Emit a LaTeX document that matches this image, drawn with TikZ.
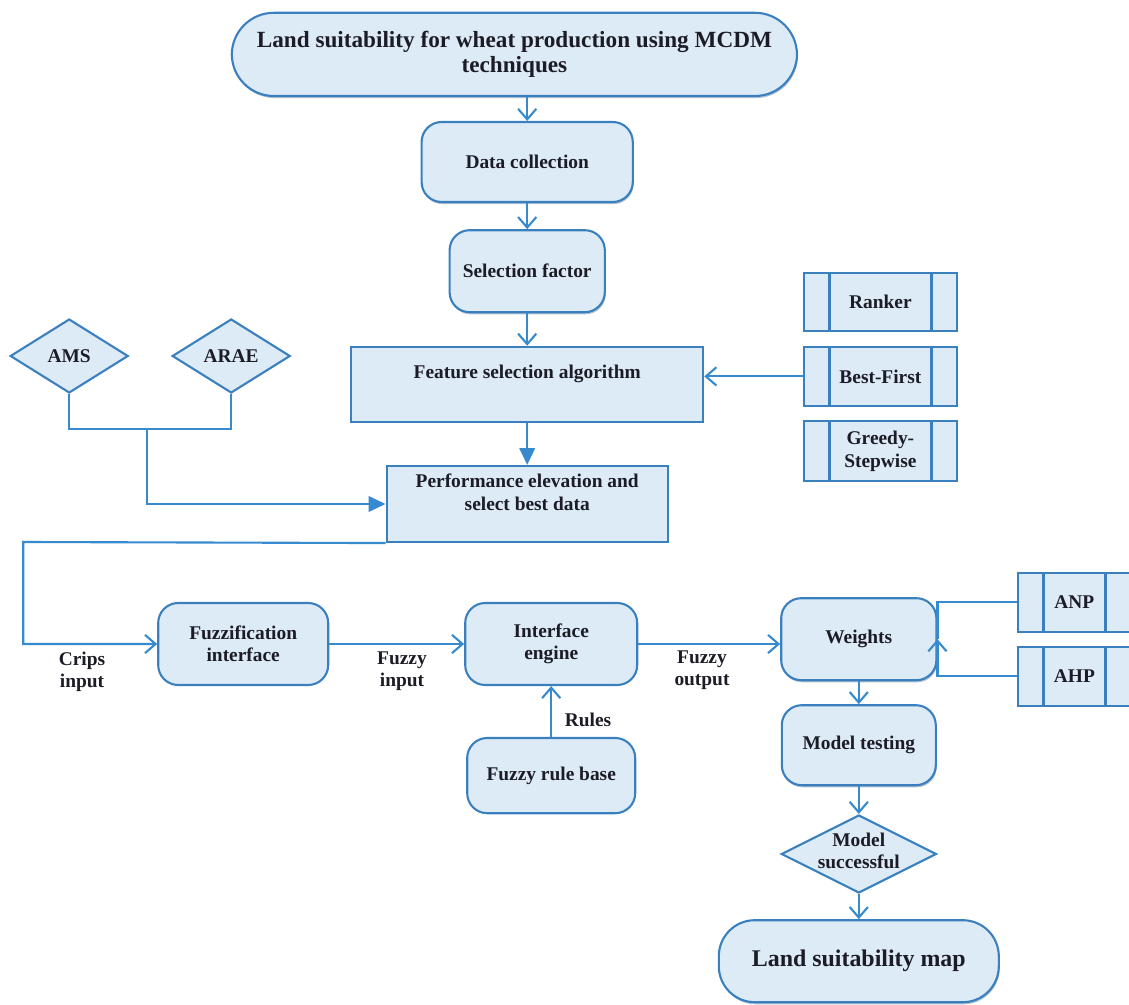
\documentclass[tikz,border=0pt]{standalone}
\usepackage{fontspec}
\setmainfont{Liberation Serif}
\usetikzlibrary{arrows.meta,shapes.geometric,shadows}

\definecolor{boxfill}{RGB}{221,235,247}
\definecolor{boxline}{RGB}{58,128,190}
\definecolor{wire}{RGB}{55,138,206}
\definecolor{ink}{RGB}{28,28,38}

% text that takes no room in its node, raised by the optional amount
\newcommand{\inbox}[2][0pt]{\raisebox{#1}[0pt][0pt]{\makebox[0pt]{\begin{tabular}{@{}c@{}}#2\end{tabular}}}}

\tikzset{
  every node/.style={font=\bfseries\fontsize{13.8}{16}\selectfont, text=ink},
  roundbox/.style={draw=boxline, fill=boxfill, line width=1.5pt, rounded corners=0.5cm, inner sep=2pt, align=center},
  shadowed/.style={drop shadow={shadow xshift=0.6pt, shadow yshift=-1.5pt, opacity=0.35, fill=boxline!60!black}},
  plainbox/.style={draw=boxline, fill=boxfill, line width=1.5pt, inner sep=2pt, align=center},
  procbox/.style={plainbox, minimum width=3.83cm, path picture={
      \draw[boxline, line width=2pt] ([xshift=0.64cm]path picture bounding box.north west) -- ([xshift=0.64cm]path picture bounding box.south west);
      \draw[boxline, line width=2pt] ([xshift=-0.64cm]path picture bounding box.north east) -- ([xshift=-0.64cm]path picture bounding box.south east);}},
  decision/.style={diamond, draw=boxline, fill=boxfill, line width=1.5pt, inner sep=0pt, aspect=1.6},
  note/.style={align=center, inner sep=0pt},
  link/.style={draw=wire, line width=1.5pt},
  flow/.style={link, -{Straight Barb[length=7.5pt,width=13pt]}},
  push/.style={link, -{Triangle[length=12pt,width=11pt]}}
}

\begin{document}
\begin{tikzpicture}
\useasboundingbox (0,0) rectangle (28.225,-25.125);

% ---- main column ----
\node[roundbox, shadowed, rounded corners=1.05cm, minimum width=14.13cm, minimum height=2.08cm,
      font=\bfseries\fontsize{16.5}{18}\selectfont] (title) at (12.86,-1.36)
      {Land suitability for wheat production using MCDM\\techniques};
\node[roundbox, shadowed, minimum width=5.28cm, minimum height=2.0cm] (data) at (13.18,-4.05) {Data collection};
\node[roundbox, shadowed, minimum width=3.88cm, minimum height=2.05cm] (sel) at (13.18,-6.78) {Selection factor};
\node[plainbox, minimum width=8.8cm, minimum height=1.88cm] (feat) at (13.18,-9.61) {\inbox[4pt]{Feature selection algorithm}};
\node[plainbox, minimum width=7.03cm, minimum height=1.9cm] (perf) at (13.18,-12.6) {\inbox[3pt]{Performance elevation and\\select best data}};

% ---- search methods ----
\node[procbox, minimum height=1.45cm] (rank) at (22.01,-7.55) {Ranker};
\node[procbox, minimum height=1.48cm] (best) at (22.01,-9.41) {Best-First};
\node[procbox, minimum height=1.5cm] (greedy) at (22.01,-11.28) {Greedy-\\Stepwise};

% ---- evaluators ----
\node[decision, minimum width=2.95cm, minimum height=1.85cm] (ams) at (1.73,-8.9) {AMS};
\node[decision, minimum width=2.95cm, minimum height=1.85cm] (arae) at (5.78,-8.9) {ARAE};
\coordinate (join) at (3.68,-10.73);
\coordinate (loop) at (0.58,-13.55);

% ---- fuzzy part ----
\node[roundbox, minimum width=4.25cm, minimum height=2.05cm] (fuzz) at (6.08,-16.1) {Fuzzification\\interface};
\node[roundbox, minimum width=4.3cm, minimum height=2.05cm] (inter) at (13.78,-16.1) {Interface\\engine};
\node[roundbox, minimum width=4.2cm, minimum height=1.88cm] (rule) at (13.78,-19.39) {Fuzzy rule base};
\node[note] (crips) at (2.05,-16.8) {Crips\\input};
\node[note] (fin) at (10.05,-16.78) {Fuzzy\\input};
\node[note] (fout) at (17.55,-16.75) {Fuzzy\\output};
\node[note] (rules) at (14.7,-18.0) {Rules};

% ---- weighting and output ----
\node[roundbox, shadowed, minimum width=3.88cm, minimum height=2.05cm] (weights) at (21.47,-15.98) {Weights};
\node[procbox, minimum width=2.83cm, minimum height=1.48cm] (anp) at (26.86,-15.06) {ANP};
\node[procbox, minimum width=2.83cm, minimum height=1.48cm] (ahp) at (26.86,-16.91) {AHP};
\node[roundbox, shadowed, minimum width=3.85cm, minimum height=2.0cm] (mtest) at (21.47,-18.63) {Model testing};
\node[decision, minimum width=3.88cm, minimum height=1.95cm] (succ) at (21.47,-21.35) {\inbox[-3pt]{Model\\successful}};
\node[roundbox, shadowed, rounded corners=0.9cm, minimum width=7.0cm, minimum height=2.05cm,
      font=\bfseries\fontsize{17}{20}\selectfont] (map) at (21.47,-24.03) {Land suitability map};

% ---- connectors ----
\draw[flow] (title.south -| data.north) -- (data.north);
\draw[flow] (data.south) -- (sel.north);
\draw[flow] (sel.south) -- (feat.north);
\draw[push] (feat.south) -- (perf.north);
\draw[flow] (best.west) -- (best.west -| feat.east);
\draw[link] (ams.south) |- (join) -| (arae.south);
\draw[push] (join) |- (perf.west);
\draw[flow] (perf.south west) -- (loop) |- (fuzz.west);
\draw[flow] (fuzz.east) -- (inter.west);
\draw[flow] (rule.north) -- (inter.south);
\draw[flow] (inter.east) -- (inter.east -| weights.west);
\draw[link] (anp.west) -| (weights.east);
\draw[flow] (ahp.west) -| (weights.east);
\draw[flow] (weights.south) -- (mtest.north);
\draw[flow] (mtest.south) -- (succ.north);
\draw[flow] (succ.south) -- (map.north);

\end{tikzpicture}
\end{document}
